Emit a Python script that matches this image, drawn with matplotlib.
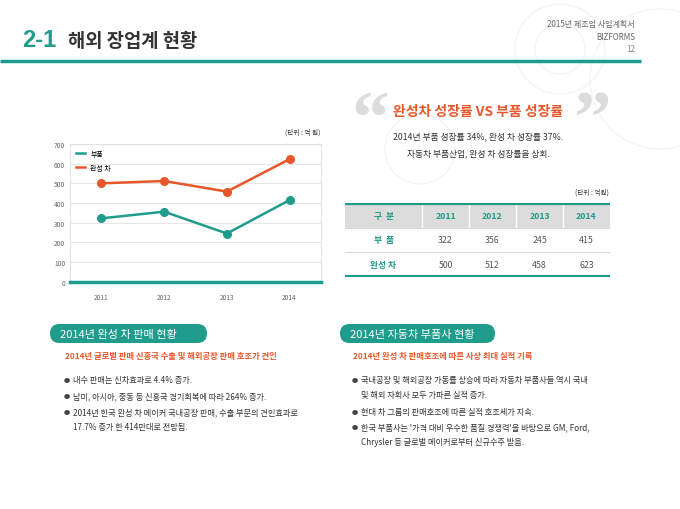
import matplotlib.pyplot as plt
from matplotlib.patches import FancyBboxPatch, Rectangle, Circle
from matplotlib.lines import Line2D

plt.rcParams['font.family'] = ['Noto Sans CJK KR', 'DejaVu Sans']

years = ['2011', '2012', '2013', '2014']
parts = [322, 356, 245, 415]
cars = [500, 512, 458, 623]
series_names = ['부품', '완성 차']
row_labels = ['부  품', '완성 차']
yticks = [0, 100, 200, 300, 400, 500, 600, 700]

left_bullets = ['내수 판매는 신차효과로 4.4% 증가.',
                '남미, 아시아, 중동 등 신흥국 경기회복에 따라 264% 증가.',
                '2014년 한국 완성 차 메이커 국내공장 판매, 수출 부문의 견인효과로\n17.7% 증가 한 414만대로 전망됨.']
right_bullets = ['국내공장 및 해외공장 가동률 상승에 따라 자동차 부품사들 역시 국내\n및 해외 자회사 모두 가파른 실적 증가.',
                 '현대 차 그룹의 판매호조에 따른 실적 호조세가 지속.',
                 "한국 부품사는 '가격 대비 우수한 품질 경쟁력'을 바탕으로 GM, Ford,\nChrysler 등 글로벌 메이커로부터 신규수주 받음."]

teal = '#1f9c8c'
orange = '#e8572a'
grey_txt = '#555555'

fig = plt.figure(figsize=(6.8, 5.1), dpi=100)
fig.patch.set_facecolor('white')

# background layer in pixel coordinates
bg = fig.add_axes([0, 0, 1, 1])
bg.set_xlim(0, 680)
bg.set_ylim(510, 0)
bg.axis('off')

# faint gear-like circles at the top right
for cx, cy, r in [(560, 50, 45), (560, 50, 25), (660, 80, 70), (420, 150, 35)]:
    bg.add_patch(Circle((cx, cy), r, fill=False, ec='#f4f4f4', lw=1.0))

# header
bg.text(22, 47, '2-1', color=teal, fontsize=17, fontweight='bold', va='baseline',
        family=['Liberation Sans', 'DejaVu Sans'])
bg.text(68, 47, '해외 장업계 현황', color='#333333', fontsize=13.5, fontweight='bold', va='baseline')
bg.plot([0, 641], [62, 62], color=teal, lw=2.5, solid_capstyle='butt')
bg.text(635, 25, '2015년 제조업 사업계획서', ha='right', va='center', fontsize=5.8, color='#666666')
bg.text(635, 38, 'BIZFORMS', ha='right', va='center', fontsize=5.8, color='#666666')
bg.text(635, 50, '12', ha='right', va='center', fontsize=5.8, color='#888888')

# quote block
bg.text(370, 124, '\u201c', ha='center', va='center', fontsize=54, color='#dcdcdc',
        fontweight='bold', family=['Liberation Serif', 'DejaVu Serif'])
bg.text(592, 124, '\u201d', ha='center', va='center', fontsize=54, color='#dcdcdc',
        fontweight='bold', family=['Liberation Serif', 'DejaVu Serif'])
bg.text(478, 112, '완성차 성장률 VS 부품 성장률', ha='center', va='center', fontsize=10,
        color=orange, fontweight='bold')
bg.text(478, 137, '2014년 부품 성장률 34%, 완성 차 성장률 37%.', ha='center', va='center',
        fontsize=6.3, color='#333333')
bg.text(478, 154, '자동차 부품산업, 완성 차 성장률을 상회.', ha='center', va='center',
        fontsize=6.3, color='#333333')

# unit labels
bg.text(320, 133, '(단위 : 억 원)', ha='right', va='center', fontsize=4.8, color='#333333')
bg.text(609, 193, '(단위 : 억원)', ha='right', va='center', fontsize=4.8, color='#333333')


def bullets_block(bx, bullets, ys):
    for txt, y in zip(bullets, ys):
        bg.text(bx, y, '\u25cf', ha='left', va='center', fontsize=4.5, color='#444444')
        for k, line in enumerate(txt.split('\n')):
            bg.text(bx + 9, y + 15 * k, line, ha='left', va='center', fontsize=5.9, color='#333333')


# bottom sections
bg.add_patch(FancyBboxPatch((50, 325), 157, 19, boxstyle='round,pad=0,rounding_size=9.5',
                            fc=teal, ec='none'))
bg.text(60, 334.5, '2014년 완성 차 판매 현황', ha='left', va='center', fontsize=8, color='white')
bg.text(65, 357, '2014년 글로벌 판매 신흥국 수출 및 해외공장 판매 호조가 견인', ha='left',
        va='center', fontsize=6, color=orange, fontweight='bold')
bullets_block(64, left_bullets, [381, 397, 413])

bg.add_patch(FancyBboxPatch((340, 325), 155, 19, boxstyle='round,pad=0,rounding_size=9.5',
                            fc=teal, ec='none'))
bg.text(350, 334.5, '2014년 자동차 부품사 현황', ha='left', va='center', fontsize=8, color='white')
bg.text(353, 357, '2014년 완성 차 판매호조에 따른 사상 최대 실적 기록', ha='left',
        va='center', fontsize=6, color=orange, fontweight='bold')
bullets_block(352, right_bullets, [381, 413, 428])

# line chart
ax = fig.add_axes([70 / 680, 1 - 282.7 / 510, 251 / 680, 137.7 / 510])
x = range(len(years))
ax.plot(x, parts, color=teal, lw=1.8, marker='o', ms=5.5, zorder=3)
ax.plot(x, cars, color=orange, lw=1.8, marker='o', ms=5.5, zorder=3)
ax.set_xlim(-0.5, 3.5)
ax.set_ylim(0, 700)
ax.set_yticks(yticks)
ax.set_xticks(list(x))
ax.set_xticklabels(years)
ax.tick_params(length=0, labelsize=4.8, labelcolor='#666666')
ax.tick_params(axis='x', pad=8)
ax.grid(axis='y', color='#e6e6e6', lw=0.8)
ax.set_axisbelow(True)
for side in ['top', 'right', 'left']:
    ax.spines[side].set_color('#e2e2e2')
    ax.spines[side].set_linewidth(0.8)
ax.spines['bottom'].set_color(teal)
ax.spines['bottom'].set_linewidth(2.5)
handles = [Line2D([], [], color=teal, lw=1.8), Line2D([], [], color=orange, lw=1.8)]
ax.legend(handles, series_names, loc='upper left', frameon=False, fontsize=5,
          handlelength=1.3, borderaxespad=0.4, labelspacing=0.9, handletextpad=0.8)

# table
col_w = [77, 47, 47, 47, 47]
edges = [0]
for w in col_w:
    edges.append(edges[-1] + w)
ta = fig.add_axes([345 / 680, 1 - 278 / 510, 265 / 680, 74 / 510])
ta.set_xlim(0, edges[-1])
ta.set_ylim(3, 0)
ta.axis('off')
ta.add_patch(Rectangle((0, 0), edges[-1], 1, fc='#dcdcdc', ec='none'))
for e in edges[1:-1]:
    ta.plot([e, e], [0, 1], color='white', lw=1)
ta.plot([0, edges[-1]], [1, 1], color='#cfcfcf', lw=0.6)
ta.plot([0, edges[-1]], [2, 2], color='#cfcfcf', lw=0.6)
ta.plot([0, edges[-1]], [0, 0], color=teal, lw=3, solid_capstyle='butt')
ta.plot([0, edges[-1]], [3, 3], color=teal, lw=3, solid_capstyle='butt')
header = ['구  분'] + years
for j, h in enumerate(header):
    ta.text((edges[j] + edges[j + 1]) / 2, 0.5, h, ha='center', va='center',
            fontsize=6.3, color=teal, fontweight='bold')
for i, (lab, vals) in enumerate(zip(row_labels, [parts, cars])):
    ta.text((edges[0] + edges[1]) / 2, i + 1.5, lab, ha='center', va='center',
            fontsize=6.3, color=teal, fontweight='bold')
    for j, v in enumerate(vals):
        ta.text((edges[j + 1] + edges[j + 2]) / 2, i + 1.5, str(v), ha='center',
                va='center', fontsize=6.3, color=grey_txt)

fig.savefig('out.png', dpi=100)
